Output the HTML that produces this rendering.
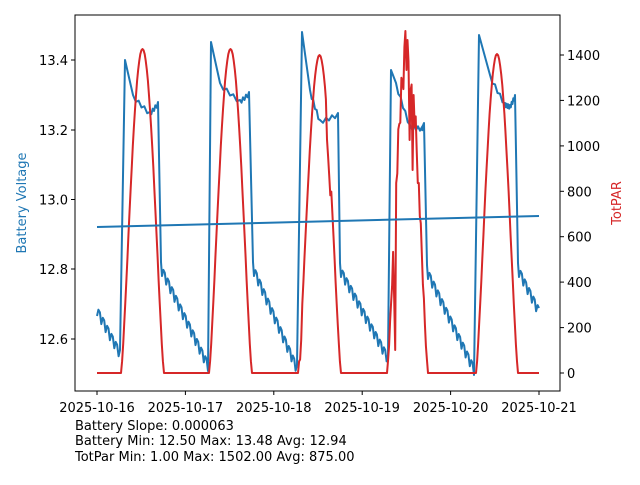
<!DOCTYPE html>
<html><head><meta charset="utf-8"><style>
body{margin:0;background:#fff;}
svg text{font-family:"DejaVu Sans","Liberation Sans",sans-serif;font-size:13px;fill:#000;}
</style></head><body>
<svg id="s" width="640" height="480" xmlns="http://www.w3.org/2000/svg">
<rect x="0" y="0" width="640" height="480" fill="#fff"/>
<g id="plot"></g>
<rect x="75" y="15" width="485" height="376" fill="none" stroke="#000" stroke-width="1"/>
<g stroke="#000" stroke-width="1">
<line x1="71" y1="60" x2="75" y2="60"/><line x1="71" y1="130" x2="75" y2="130"/><line x1="71" y1="199.5" x2="75" y2="199.5"/><line x1="71" y1="269" x2="75" y2="269"/><line x1="71" y1="339" x2="75" y2="339"/>
<line x1="560" y1="373" x2="564" y2="373"/><line x1="560" y1="327.6" x2="564" y2="327.6"/><line x1="560" y1="282.1" x2="564" y2="282.1"/><line x1="560" y1="236.7" x2="564" y2="236.7"/><line x1="560" y1="191.3" x2="564" y2="191.3"/><line x1="560" y1="145.9" x2="564" y2="145.9"/><line x1="560" y1="100.4" x2="564" y2="100.4"/><line x1="560" y1="55" x2="564" y2="55"/>
<line x1="97" y1="391" x2="97" y2="395"/><line x1="185.4" y1="391" x2="185.4" y2="395"/><line x1="273.8" y1="391" x2="273.8" y2="395"/><line x1="362.2" y1="391" x2="362.2" y2="395"/><line x1="450.6" y1="391" x2="450.6" y2="395"/><line x1="539" y1="391" x2="539" y2="395"/>
</g>
<g text-anchor="end">
<text x="68" y="65">13.4</text><text x="68" y="135">13.2</text><text x="68" y="204.5">13.0</text><text x="68" y="274">12.8</text><text x="68" y="344">12.6</text>
</g>
<g>
<text x="567" y="378">0</text><text x="567" y="332.6">200</text><text x="567" y="287.1">400</text><text x="567" y="241.7">600</text><text x="567" y="196.3">800</text><text x="567" y="150.9">1000</text><text x="567" y="105.4">1200</text><text x="567" y="60">1400</text>
</g>
<g text-anchor="middle">
<text x="97" y="412">2025-10-16</text><text x="185.4" y="412">2025-10-17</text><text x="273.8" y="412">2025-10-18</text><text x="362.2" y="412">2025-10-19</text><text x="450.6" y="412">2025-10-20</text><text x="539" y="412">2025-10-21</text>
</g>
<text x="26" y="203" text-anchor="middle" transform="rotate(-90 26 203)" style="fill:#1f77b4">Battery Voltage</text>
<text x="621" y="203" text-anchor="middle" transform="rotate(-90 621 203)" style="fill:#d62728">TotPAR</text>
<text x="75" y="430">Battery Slope: 0.000063</text>
<text x="75" y="445">Battery Min: 12.50 Max: 13.48 Avg: 12.94</text>
<text x="75" y="461">TotPar Min: 1.00 Max: 1502.00 Avg: 875.00</text>
</svg>
<script>
var g=document.getElementById('plot');
function pl(pts,col){var p=document.createElementNS('http://www.w3.org/2000/svg','polyline');p.setAttribute('points',pts.map(function(a){return a[0].toFixed(1)+','+a[1].toFixed(1)}).join(' '));p.setAttribute('fill','none');p.setAttribute('stroke',col);p.setAttribute('stroke-width','2');p.setAttribute('stroke-linejoin','round');g.appendChild(p);}
var R=[];var days=[[121,143,164,49],[209,231,252,49],[298,319,341,55],[387,407,428,50],[476,497,518,54]];
R.push([97,373]);
days.forEach(function(d,i){R.push([d[0],373]);var n=40;for(var k=0;k<=n;k++){var t=k/n;var x=d[0]+(d[2]-d[0])*t;var v=Math.pow(Math.sin(Math.PI*t),1.3);var y=373-(373-d[3])*v;
if(i==2&&x>327&&x<331)y+=25;
if(i==2&&x>300&&x<302)y+=15;
if(i==3){y+=((k*37)%11-5)*5*v; if(k==18)y=31; if(k==19)y=70; if(k==20)y=40;if(k==22)y=140; if(k==23)y=90; if(k==25)y=170; if(k==7)y=300; if(k==8)y=350;}
R.push([x,y]);}R.push([d[2],373]);});
R.push([539,373]);
var B=[];
function saw(x0,y0,x1,y1){var n=Math.round((x1-x0)/1.4);for(var k=0;k<=n;k++){var t=k/n;var x=x0+(x1-x0)*t;var y=y0+(y1-y0)*t+((k%3==0)?9:0);B.push([x,y]);}}
saw(97,307,120,350);
var segs=[[125,60,133,95,150,112,158,102,161,262,208,362],[211,42,220,83,240,100,249,92,253,262,297,365],[302,32,310,90,320,120,338,113,340,263,388,355],[391,70,396,83,410,125,422,127,424,123,427,265,474,366],[479,35,490,75,505,103,510,105,515,95,518,263,539,308]];
segs.forEach(function(s){var m=s.length;for(var i=0;i<m-4;i+=2){B.push([s[i],s[i+1]]);if(i>0&&i<m-6){var xa=s[i],ya=s[i+1],xb=s[i+2],yb=s[i+3];for(var q=1;q<6;q++){var t=q/6;B.push([xa+(xb-xa)*t,ya+(yb-ya)*t+(q%2?4:0)]);}}}
var x0=s[m-4],y0=s[m-3];B.push([x0,y0]);saw(x0+1,y0+5,s[m-2],s[m-1]);});
pl(B,'#1f77b4');
pl(R,'#d62728');
pl([[97,227],[539,216]],'#1f77b4');
</script>
</body></html>
